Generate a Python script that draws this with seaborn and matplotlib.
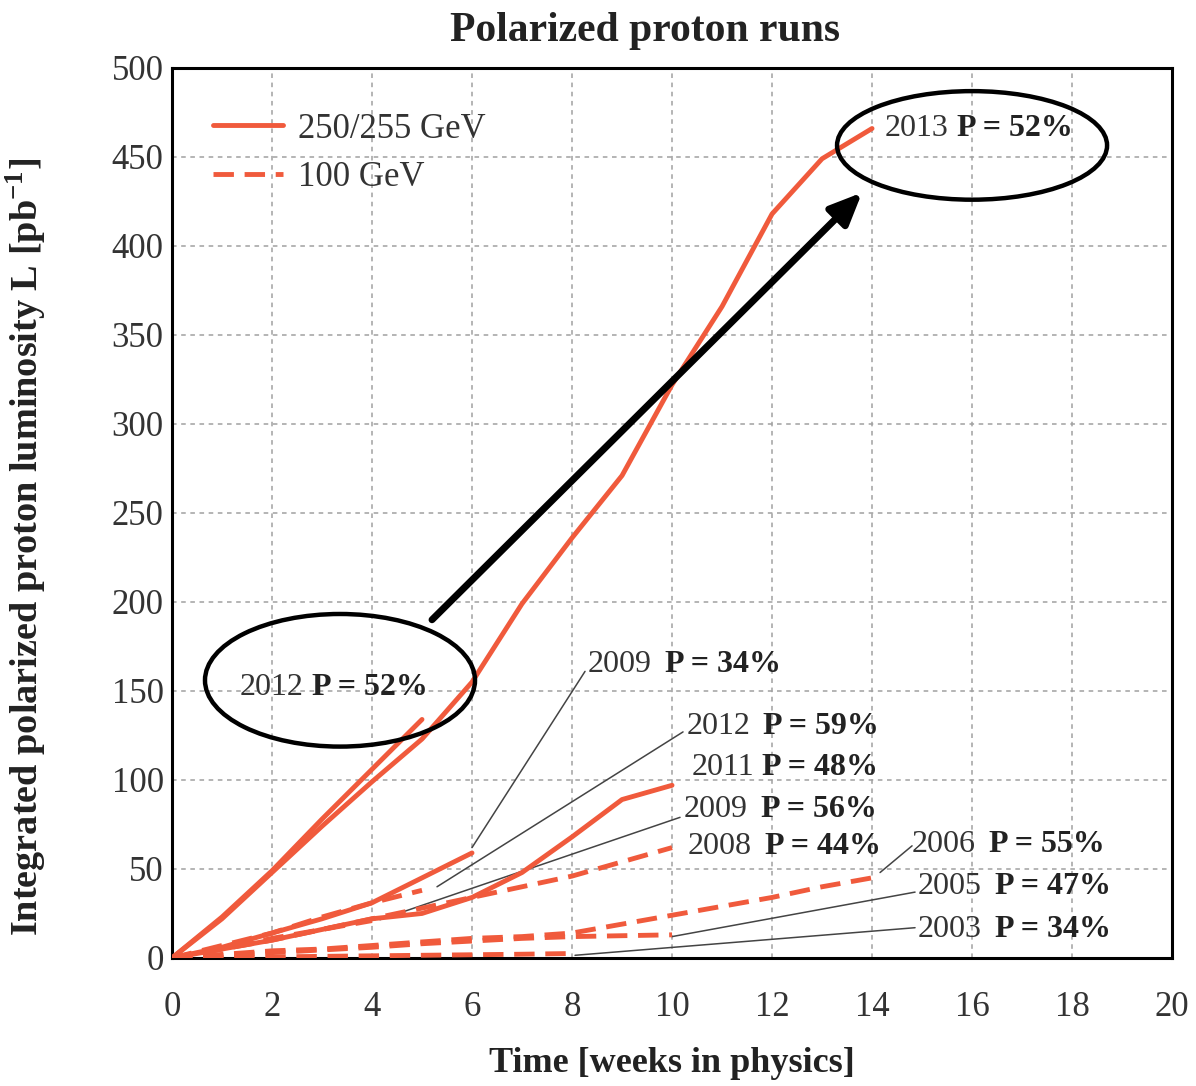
import numpy as np
import pandas as pd
import seaborn as sns
import matplotlib.pyplot as plt
from matplotlib.patches import Ellipse
from matplotlib.lines import Line2D

# ---- run data: integrated luminosity [pb^-1] vs weeks in physics ----
weeks_2013 = [0, 1, 2, 3, 4, 5, 6, 7, 8, 9, 10, 11, 12, 13, 14]
lumi_2013 = [0, 22, 48, 74, 99, 123, 155, 199, 236, 271, 322, 366, 418, 449, 466]

weeks_2012_255 = [0, 1, 2, 3, 4, 5]
lumi_2012_255 = [0, 23, 49, 78, 106, 134]

weeks_2009_250 = [0, 1, 2, 3, 4, 5, 6]
lumi_2009_250 = [0, 6, 14, 22, 31, 45, 59]

weeks_2011 = [0, 1, 2, 3, 4, 5, 6, 7, 8, 9, 10]
lumi_2011 = [0, 5, 10, 16, 22, 25, 34, 48, 68, 89, 97]

weeks_2012_100 = [0, 1, 2, 3, 4, 5]
lumi_2012_100 = [0, 7, 14, 23, 31, 38]

weeks_2009_100 = [0, 1, 2, 3, 4]
lumi_2009_100 = [0, 5, 11, 16, 21]

weeks_2008 = [0, 1, 2, 3, 4, 5, 6, 7, 8, 9, 10]
lumi_2008 = [0, 5, 10, 16, 22, 28, 34, 40, 46, 54, 62]

weeks_2006 = [0, 1, 2, 3, 4, 5, 6, 7, 8, 9, 10, 11, 12, 13, 14]
lumi_2006 = [0, 2, 4, 5, 7, 9, 11, 12, 14, 19, 24, 29, 34, 40, 45]

weeks_2005 = [0, 1, 2, 3, 4, 5, 6, 7, 8, 9, 10]
lumi_2005 = [0, 1.5, 3, 4.5, 6, 8, 9.5, 11, 12, 12.5, 13]

weeks_2003 = [0, 1, 2, 3, 4, 5, 6, 7, 8]
lumi_2003 = [0, 0.3, 0.6, 0.9, 1.2, 1.5, 1.8, 2.1, 2.5]

runs = [
    ("2013", "250/255 GeV", weeks_2013, lumi_2013),
    ("2012a", "250/255 GeV", weeks_2012_255, lumi_2012_255),
    ("2009a", "250/255 GeV", weeks_2009_250, lumi_2009_250),
    ("2011", "250/255 GeV", weeks_2011, lumi_2011),
    ("2012b", "100 GeV", weeks_2012_100, lumi_2012_100),
    ("2009b", "100 GeV", weeks_2009_100, lumi_2009_100),
    ("2008", "100 GeV", weeks_2008, lumi_2008),
    ("2006", "100 GeV", weeks_2006, lumi_2006),
    ("2005", "100 GeV", weeks_2005, lumi_2005),
    ("2003", "100 GeV", weeks_2003, lumi_2003),
]

frames = []
for run, energy, w, l in runs:
    frames.append(pd.DataFrame({"run": run, "energy": energy, "week": w, "lumi": l}))
df = pd.concat(frames, ignore_index=True)

RED = "#F05A3C"
DASH = (4.2, 2.2)
LW = 3.5

sns.set_theme(style="white")
plt.rcParams["font.family"] = ["Liberation Serif", "DejaVu Serif"]
plt.rcParams["mathtext.fontset"] = "custom"
plt.rcParams["mathtext.rm"] = "Liberation Serif"
plt.rcParams["mathtext.bf"] = "Liberation Serif:bold"

fig = plt.figure(figsize=(11.96, 10.86), dpi=100)
ax = fig.add_axes([0.1438, 0.1179, 0.8362, 0.8195])

sns.lineplot(data=df, x="week", y="lumi", style="energy", units="run",
             estimator=None, color=RED, linewidth=LW,
             dashes={"250/255 GeV": "", "100 GeV": DASH},
             legend=False, ax=ax, zorder=3)

ax.set_xlim(0, 20)
ax.set_ylim(0, 500)
ax.set_xticks(np.arange(0, 21, 2))
ax.set_yticks(np.arange(0, 501, 50))
ax.grid(True, color="#a0a0a0", linestyle=(0, (3, 3)), linewidth=1.1)
for s in ax.spines.values():
    s.set_color("black")
    s.set_linewidth(2.2)
ax.tick_params(direction="in", length=8, width=1.5, labelsize=25,
               colors="black", labelcolor="#333333")
ax.tick_params(axis="x", pad=24)
ax.tick_params(axis="y", pad=6)

ax.set_xlabel("")
ax.set_ylabel("")
fig.text(645 / 1196, 1 - 31 / 1086, "Polarized proton runs", fontsize=30,
         fontweight="bold", ha="center", va="center", color="#222222")
fig.text(672 / 1196, 1 - 1063 / 1086, "Time [weeks in physics]", fontsize=26,
         fontweight="bold", ha="center", va="center", color="#222222")
fig.text(26 / 1196, 1 - 547 / 1086,
         r"Integrated polarized proton luminosity L [pb$^{\mathbf{-1}}$]",
         fontsize=27.5, fontweight="bold", ha="center", va="center",
         rotation=90, color="#222222")

# legend
handles = [Line2D([], [], color=RED, lw=LW),
           Line2D([], [], color=RED, lw=LW, dashes=DASH)]
leg = ax.legend(handles, ["250/255 GeV", "100 GeV"], loc="upper left",
                bbox_to_anchor=(0.01, 0.985), frameon=False, fontsize=25,
                handlelength=2.0, handletextpad=0.45, labelspacing=0.45)
for t in leg.get_texts():
    t.set_color("#333333")

# leader lines to run labels
leaders = [
    ((6.0, 62), (8.26, 161)),
    ((5.3, 40), (10.22, 127)),
    ((4.16, 21.5), (10.16, 79)),
    ((10.0, 12), (14.86, 37)),
    ((8.06, 1.5), (14.86, 17)),
    ((14.16, 48), (14.8, 63)),
]
for (x0, y0), (x1, y1) in leaders:
    ax.plot([x0, x1], [y0, y1], color="#444444", lw=1.1, zorder=2)

# run labels: year in regular weight, polarization in bold
labels = [
    (8.32, 165, "2009", "P = 34%", 9),
    (10.3, 130, "2012", "P = 59%", 9),
    (10.4, 107, "2011", "P = 48%", 5),
    (10.24, 83.5, "2009", "P = 56%", 9),
    (10.32, 62.6, "2008", "P = 44%", 9),
    (14.8, 64, "2006", "P = 55%", 9),
    (14.92, 40, "2005", "P = 47%", 9),
    (14.92, 16, "2003", "P = 34%", 9),
    (1.36, 152, "2012", "P = 52%", 6),
    (14.26, 466, "2013", "P = 52%", 6),
]
for x, y, year, pol, gap in labels:
    t = ax.text(x, y, year, fontsize=23, color="#333333", ha="left", va="center",
                zorder=5)
    ax.annotate(pol, xy=(1, 0.5), xycoords=t, xytext=(gap, 0),
                textcoords="offset points", ha="left", va="center",
                fontsize=23, fontweight="bold", color="#222222", zorder=5)

# highlight ellipses and arrow
ax.add_patch(Ellipse((3.36, 156), 5.4, 74.5, fill=False, edgecolor="black",
                     lw=3.2, zorder=6, clip_on=False))
ax.add_patch(Ellipse((16.0, 456.5), 5.4, 61, fill=False, edgecolor="black",
                     lw=3.2, zorder=6, clip_on=False))
ax.annotate("", xy=(13.8, 430), xytext=(5.2, 190),
            arrowprops=dict(arrowstyle="-|>,head_length=1.6,head_width=0.7",
                            color="black", lw=5, shrinkA=0, shrinkB=0),
            zorder=6)

fig.savefig("out.png", dpi=100)
